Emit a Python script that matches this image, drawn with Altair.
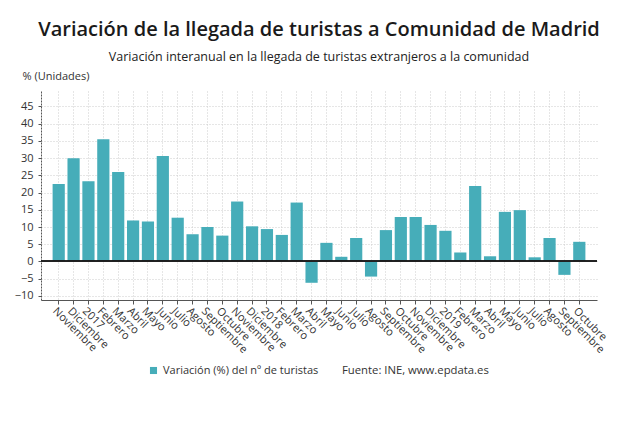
import json
import altair as alt
import pandas as pd

labels = ["Noviembre", "Diciembre", "2017", "Febrero", "Marzo", "Abril", "Mayo", "Junio",
          "Julio", "Agosto", "Septiembre", "Octubre", "Noviembre", "Diciembre", "2018",
          "Febrero", "Marzo", "Abril", "Mayo", "Junio", "Julio", "Agosto", "Septiembre",
          "Octubre", "Noviembre", "Diciembre", "2019", "Febrero", "Marzo", "Abril", "Mayo",
          "Junio", "Julio", "Agosto", "Septiembre", "Octubre"]
values = [22.5, 30.0, 23.3, 35.5, 26.0, 11.9, 11.6, 30.6, 12.7, 7.9, 10.0, 7.5,
          17.4, 10.2, 9.4, 7.7, 17.1, -6.2, 5.4, 1.35, 6.8, -4.4, 9.1, 12.9,
          12.9, 10.6, 8.9, 2.6, 21.9, 1.5, 14.4, 14.9, 1.2, 6.8, -3.9, 5.7]
y_ticks = [-10, -5, 0, 5, 10, 15, 20, 25, 30, 35, 40, 45]
serie = "Variación (%) del nº de turistas"
fuente = "Fuente: INE, www.epdata.es"

df = pd.DataFrame({"idx": list(range(len(values))), "valor": values, "serie": serie})
df_src = pd.DataFrame({"txt": [fuente]})

FONT = "Open Sans"
label_expr = json.dumps(labels, ensure_ascii=False) + "[datum.value]"

y_axis = alt.Axis(title="% (Unidades)", titleAngle=0, titleAlign="left",
                  titleBaseline="bottom", titleX=-19, titleY=-10,
                  titleFont=FONT, titleFontSize=11, titleFontWeight="normal",
                  titleColor="#333333",
                  values=y_ticks, labelOverlap=False, labelSeparation=0,
                  labelFont=FONT, labelFontSize=11, labelColor="#333333",
                  labelPadding=5, tickSize=3, tickColor="#555555",
                  domainColor="#555555", domainDash=[2, 1],
                  gridColor="#cccccc", gridDash=[1, 2])

bars = alt.Chart(df).mark_bar(color="#46adb9").encode(
    x=alt.X("idx:O",
            scale=alt.Scale(paddingInner=0.18, paddingOuter=0.78),
            axis=alt.Axis(title=None, labelExpr=label_expr, labelAngle=45,
                          labelAlign="left", labelBaseline="top",
                          labelFont=FONT, labelFontSize=11, labelColor="#333333",
                          labelPadding=1, tickSize=4, tickColor="#555555",
                          domainColor="#555555", grid=True, gridColor="#cccccc",
                          gridDash=[1, 2], labelOverlap=False)),
    y=alt.Y("valor:Q",
            scale=alt.Scale(domain=[-11.2, 49.5], nice=False, zero=False),
            axis=y_axis),
    fill=alt.Fill("serie:N",
                  scale=alt.Scale(range=["#46adb9"]),
                  legend=alt.Legend(title=None, orient="none", legendX=107, legendY=274,
                                    symbolType="square", symbolSize=50,
                                    labelFont=FONT, labelFontSize=11,
                                    labelColor="#333333", labelOffset=4,
                                    labelLimit=400)),
)

zero = alt.Chart(df).mark_rule(color="#222222", strokeWidth=1).encode(
    y=alt.YDatum(0, axis=y_axis))

source = alt.Chart(df_src).mark_text(
    font=FONT, fontSize=11.3, color="#333333", align="left", baseline="middle"
).encode(text="txt:N", x=alt.value(301), y=alt.value(280))

chart = alt.layer(bars, zero, source).properties(
    width=556,
    height=209,
    autosize=alt.AutoSizeParams(type="none"),
    padding={"left": 41, "top": 91, "right": 43, "bottom": 131},
    title=alt.TitleParams(
        text="Variación de la llegada de turistas a Comunidad de Madrid",
        subtitle="Variación interanual en la llegada de turistas extranjeros a la comunidad",
        font=FONT, fontSize=20, fontWeight=600, color="#1a1a1a",
        subtitleFont=FONT, subtitleFontSize=12.5, subtitleColor="#222222",
        subtitlePadding=11, anchor="middle", offset=7,
    ),
).configure_view(stroke=None).configure_axisY(labelOverlap=False)

chart.save("out.html", embed_options={"renderer": "svg", "actions": False})
